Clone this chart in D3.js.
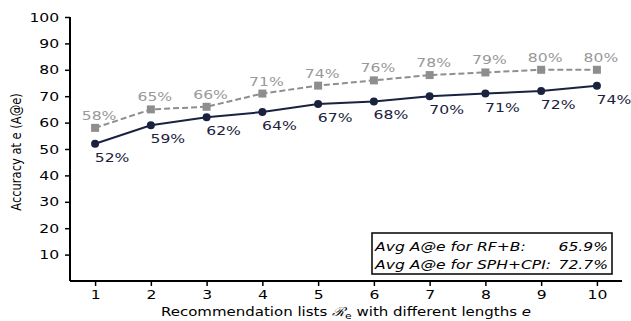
<!DOCTYPE html>
<html>
<head>
<meta charset="utf-8">
<script src="https://cdn.jsdelivr.net/npm/d3@7"></script>
<style>
  body { margin: 0; background: #fff; }
  svg { display: block; font-family: "DejaVu Sans", sans-serif; }
</style>
</head>
<body>
<svg id="chart" width="631" height="321"></svg>
<script>
// List lengths e = 1..10
const lengths = [1, 2, 3, 4, 5, 6, 7, 8, 9, 10];
// Accuracy at e (%) for each method
const rfb = [58, 65, 66, 71, 74, 76, 78, 79, 80, 80];
const sphCpi = [52, 59, 62, 64, 67, 68, 70, 71, 72, 74];
const yTicks = [10, 20, 30, 40, 50, 60, 70, 80, 90, 100];
const legendRows = [["Avg A@e for RF+B:", "65.9%"], ["Avg A@e for SPH+CPI:", "72.7%"]];

const dark = "#1b2240";
const grey = "#8e8e8e";
const fontSize = 13;
const stretch = 1.2;   // horizontal glyph stretch used for all horizontal text

const svg = d3.select("#chart");
const x = d3.scaleLinear().domain([0.55, 10.45]).range([70, 622]);
const y = d3.scaleLinear().domain([0, 100]).range([281, 17]);

// places a text element at (px,py) with widened glyphs
const place = (px, py) => `translate(${px},${py}) scale(${stretch},1)`;

// Axes (left and bottom spines only)
const xAxis = svg.append("g").attr("transform", `translate(0,${y(0)})`)
  .call(d3.axisBottom(x).tickValues(lengths).tickFormat(d3.format("d")).tickSize(5).tickPadding(4));
const yAxis = svg.append("g").attr("transform", `translate(${x.range()[0]},0)`)
  .call(d3.axisLeft(y).tickValues(yTicks).tickSize(5).tickPadding(4));
[xAxis, yAxis].forEach(g => {
  g.select(".domain").attr("stroke", "#000").attr("stroke-width", 2);
  g.selectAll(".tick line").attr("stroke", "#000").attr("stroke-width", 1.5);
  g.selectAll(".tick text").attr("fill", "#000").style("font-size", fontSize + "px")
    .style("font-family", "DejaVu Sans").attr("transform", `scale(${stretch},1)`);
});
xAxis.select(".domain").attr("d", `M${x.range()[0]},0H${x.range()[1]}`);
yAxis.select(".domain").attr("d", `M0,${y(0)}V${y(100)}`);

// Axis titles
const xt = svg.append("text").attr("transform", place(346, 316)).attr("text-anchor", "middle")
  .attr("fill", "#000").style("font-size", "12.5px");
xt.append("tspan").text("Recommendation lists ");
xt.append("tspan").style("font-family", "DejaVu Serif").style("font-style", "italic").text("\u211B");
xt.append("tspan").attr("dy", 3).style("font-size", "9px").text("e");
xt.append("tspan").attr("dy", -3).text(" with different lengths ");
xt.append("tspan").style("font-style", "italic").text("e");

svg.append("text").attr("transform", `translate(21,152) rotate(-90) scale(1,${stretch})`)
  .attr("text-anchor", "middle").attr("fill", "#000").style("font-size", "11.5px")
  .text("Accuracy at e (A@e)");

// Series
const line = d3.line().x((d, i) => x(lengths[i])).y(d => y(d));

svg.append("path").datum(rfb).attr("d", line).attr("fill", "none")
  .attr("stroke", grey).attr("stroke-width", 2).attr("stroke-dasharray", "6,3");
svg.selectAll(".sq").data(rfb).join("rect")
  .attr("x", (d, i) => x(lengths[i]) - 4).attr("y", d => y(d) - 4)
  .attr("width", 8).attr("height", 8).attr("fill", grey);

svg.append("path").datum(sphCpi).attr("d", line).attr("fill", "none")
  .attr("stroke", dark).attr("stroke-width", 2);
svg.selectAll(".dot").data(sphCpi).join("circle")
  .attr("cx", (d, i) => x(lengths[i])).attr("cy", d => y(d)).attr("r", 4).attr("fill", dark);

// Value labels
svg.selectAll(".lg").data(rfb).join("text")
  .attr("transform", (d, i) => place(x(lengths[i]) + 4, y(d) - 8))
  .attr("text-anchor", "middle").attr("fill", "#999").style("font-size", fontSize + "px")
  .text(d => d + "%");
svg.selectAll(".ld").data(sphCpi).join("text")
  .attr("transform", (d, i) => place(x(lengths[i]) + 17, y(d) + 18))
  .attr("text-anchor", "middle").attr("fill", dark).style("font-size", fontSize + "px")
  .text(d => d + "%");

// Summary box
svg.append("rect").attr("x", 372).attr("y", 233).attr("width", 240).attr("height", 41)
  .attr("fill", "#fff").attr("stroke", "#000").attr("stroke-width", 1.5);
legendRows.forEach((r, i) => {
  svg.append("text").attr("transform", place(375, 251 + i * 18)).attr("fill", "#000")
    .style("font-size", fontSize + "px").style("font-style", "italic").text(r[0]);
  svg.append("text").attr("transform", place(608, 251 + i * 18)).attr("text-anchor", "end")
    .attr("fill", "#000").style("font-size", fontSize + "px").style("font-style", "italic").text(r[1]);
});
</script>
</body>
</html>
